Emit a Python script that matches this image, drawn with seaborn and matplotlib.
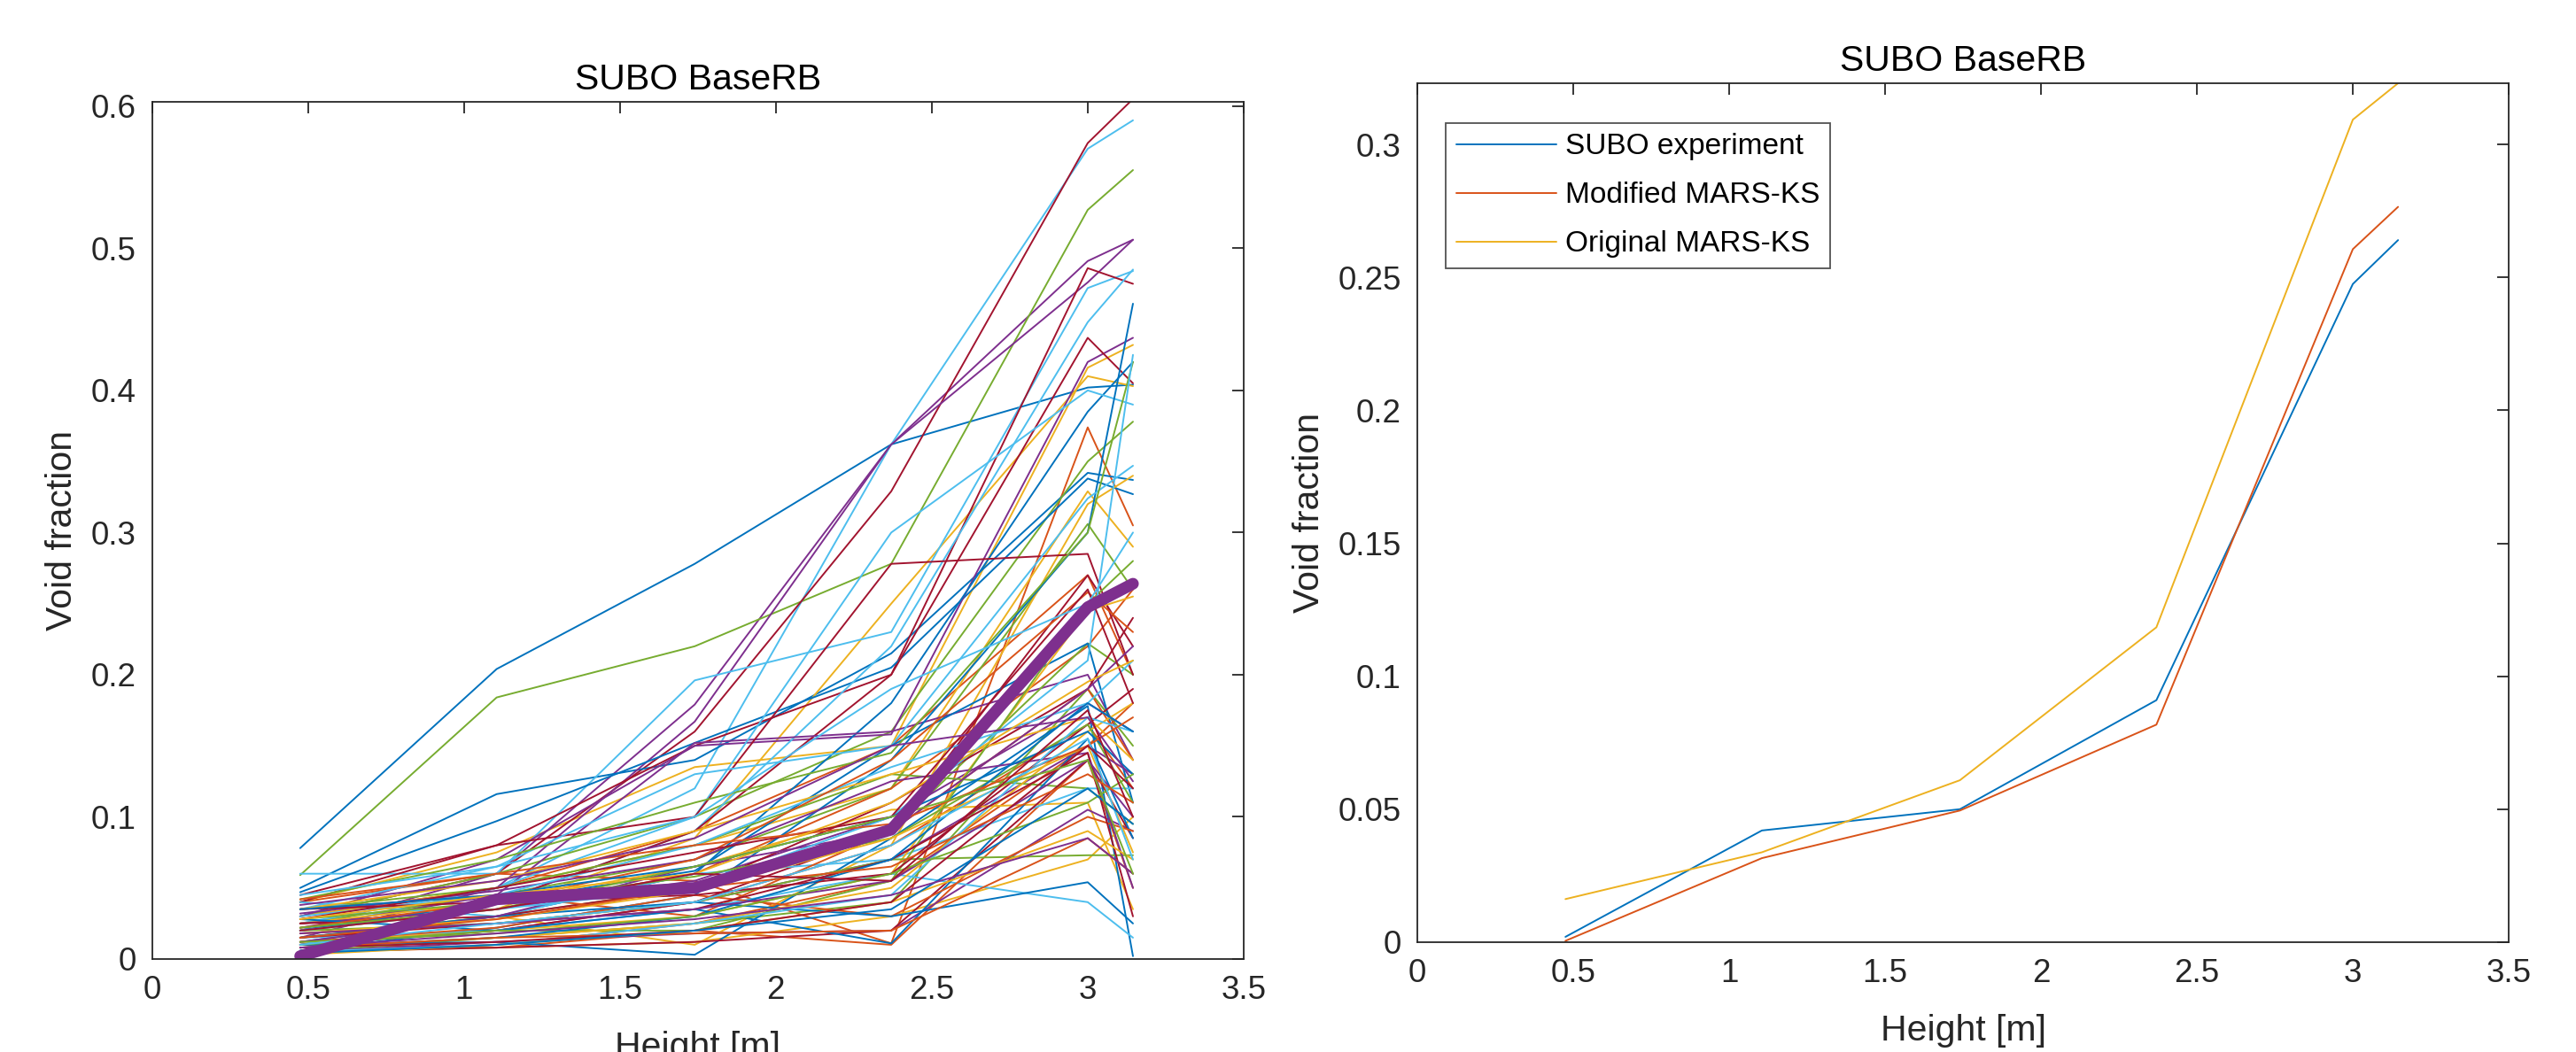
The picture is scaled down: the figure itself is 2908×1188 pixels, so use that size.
import numpy as np
import pandas as pd
import matplotlib
matplotlib.use("Agg")
import matplotlib.pyplot as plt
import seaborn as sns

# heights of the measuring stations [m]
heights = [0.475, 1.105, 1.74, 2.37, 3.0, 3.145]

# right panel
subo_exp = [0.002, 0.042, 0.050, 0.091, 0.2475, 0.264]
modified_mars = [0.0005, 0.0316, 0.0495, 0.0818, 0.2606, 0.2765]
original_mars = [0.0162, 0.0338, 0.0609, 0.1184, 0.3093, 0.323]
model_names = ["SUBO experiment", "Modified MARS-KS", "Original MARS-KS"]

runs = [
    [0.078, 0.204, 0.278, 0.362, 0.402, 0.404],
    [0.040, 0.060, 0.055, 0.011, 0.374, 0.305],
    [0.040, 0.075, 0.135, 0.150, 0.416, 0.432],
    [0.020, 0.060, 0.179, 0.362, 0.491, 0.506],
    [0.059, 0.184, 0.220, 0.278, 0.527, 0.555],
    [0.020, 0.050, 0.120, 0.362, 0.570, 0.590],
    [0.030, 0.060, 0.160, 0.329, 0.574, 0.605],

    [0.050, 0.116, 0.140, 0.215, 0.342, 0.337],
    [0.030, 0.050, 0.090, 0.150, 0.270, 0.200],
    [0.020, 0.035, 0.085, 0.250, 0.410, 0.403],
    [0.015, 0.050, 0.167, 0.362, 0.476, 0.506],
    [0.030, 0.060, 0.100, 0.160, 0.350, 0.378],
    [0.060, 0.060, 0.196, 0.230, 0.472, 0.484],
    [0.045, 0.080, 0.150, 0.200, 0.486, 0.475],

    [0.047, 0.097, 0.152, 0.205, 0.338, 0.327],
    [0.010, 0.008, 0.020, 0.010, 0.140, 0.050],
    [0.030, 0.050, 0.080, 0.120, 0.329, 0.290],
    [0.030, 0.070, 0.150, 0.158, 0.420, 0.437],
    [0.025, 0.045, 0.070, 0.120, 0.306, 0.260],
    [0.010, 0.040, 0.090, 0.220, 0.448, 0.485],
    [0.020, 0.040, 0.090, 0.200, 0.437, 0.405],

    [0.012, 0.030, 0.060, 0.180, 0.385, 0.420],
    [0.025, 0.035, 0.060, 0.120, 0.220, 0.260],
    [0.015, 0.030, 0.010, 0.080, 0.320, 0.340],
    [0.022, 0.045, 0.152, 0.160, 0.200, 0.140],
    [0.015, 0.030, 0.050, 0.090, 0.222, 0.200],
    [0.025, 0.050, 0.100, 0.300, 0.400, 0.390],
    [0.040, 0.080, 0.100, 0.278, 0.285, 0.200],

    [0.006, 0.022, 0.045, 0.140, 0.300, 0.461],
    [0.018, 0.025, 0.040, 0.080, 0.165, 0.120],
    [0.005, 0.008, 0.012, 0.030, 0.070, 0.100],
    [0.010, 0.020, 0.040, 0.070, 0.150, 0.130],
    [0.005, 0.015, 0.025, 0.040, 0.190, 0.150],
    [0.035, 0.065, 0.130, 0.150, 0.324, 0.347],
    [0.010, 0.020, 0.040, 0.090, 0.270, 0.220],

    [0.020, 0.040, 0.062, 0.150, 0.222, 0.110],
    [0.005, 0.010, 0.025, 0.055, 0.150, 0.180],
    [0.025, 0.040, 0.065, 0.105, 0.110, 0.035],
    [0.025, 0.035, 0.055, 0.100, 0.180, 0.160],
    [0.035, 0.050, 0.080, 0.130, 0.120, 0.095],
    [0.040, 0.030, 0.060, 0.070, 0.120, 0.120],
    [0.025, 0.030, 0.050, 0.110, 0.190, 0.240],

    [0.010, 0.012, 0.003, 0.085, 0.178, 0.002],
    [0.035, 0.045, 0.030, 0.090, 0.190, 0.140],
    [0.012, 0.020, 0.030, 0.060, 0.245, 0.255],
    [0.005, 0.012, 0.018, 0.020, 0.105, 0.090],
    [0.020, 0.025, 0.040, 0.070, 0.073, 0.073],
    [0.015, 0.020, 0.035, 0.060, 0.040, 0.015],
    [0.005, 0.008, 0.012, 0.020, 0.140, 0.085],

    [0.028, 0.020, 0.035, 0.011, 0.155, 0.085],
    [0.012, 0.022, 0.045, 0.030, 0.100, 0.090],
    [0.035, 0.055, 0.090, 0.130, 0.170, 0.140],
    [0.032, 0.048, 0.070, 0.125, 0.145, 0.050],
    [0.010, 0.020, 0.020, 0.055, 0.250, 0.280],
    [0.030, 0.045, 0.080, 0.135, 0.180, 0.210],
    [0.035, 0.040, 0.045, 0.060, 0.165, 0.190],

    [0.015, 0.030, 0.040, 0.030, 0.054, 0.025],
    [0.022, 0.040, 0.070, 0.140, 0.258, 0.230],
    [0.008, 0.015, 0.025, 0.050, 0.160, 0.180],
    [0.012, 0.030, 0.065, 0.090, 0.190, 0.220],
    [0.028, 0.040, 0.058, 0.085, 0.165, 0.110],
    [0.005, 0.010, 0.025, 0.045, 0.170, 0.160],
    [0.015, 0.025, 0.035, 0.070, 0.145, 0.030],

    [0.008, 0.015, 0.030, 0.070, 0.180, 0.160],
    [0.008, 0.015, 0.018, 0.020, 0.085, 0.060],
    [0.018, 0.028, 0.048, 0.085, 0.150, 0.075],
    [0.018, 0.025, 0.035, 0.055, 0.140, 0.100],
    [0.042, 0.070, 0.110, 0.145, 0.300, 0.420],
    [0.020, 0.035, 0.050, 0.100, 0.210, 0.425],
    [0.028, 0.050, 0.075, 0.100, 0.260, 0.180],

    [0.035, 0.045, 0.065, 0.100, 0.160, 0.130],
    [0.042, 0.060, 0.080, 0.095, 0.150, 0.170],
    [0.003, 0.010, 0.020, 0.040, 0.090, 0.070],
    [0.038, 0.055, 0.085, 0.150, 0.170, 0.125],
    [0.012, 0.018, 0.030, 0.060, 0.110, 0.130],
    [0.010, 0.025, 0.040, 0.080, 0.155, 0.070],
    [0.008, 0.012, 0.020, 0.040, 0.150, 0.120],

    [0.004, 0.010, 0.020, 0.035, 0.120, 0.095],
    [0.015, 0.028, 0.050, 0.065, 0.130, 0.110],
    [0.028, 0.045, 0.060, 0.110, 0.195, 0.210],
    [0.008, 0.018, 0.028, 0.045, 0.085, 0.060],
    [0.022, 0.035, 0.065, 0.100, 0.140, 0.060],
    [0.045, 0.065, 0.100, 0.190, 0.250, 0.300],
    [0.020, 0.035, 0.060, 0.055, 0.175, 0.100],
]

matlab_colors = ["#0072BD", "#D95319", "#EDB120", "#7E2F8E",
                 "#77AC30", "#4DBEEE", "#A2142F"]

sns.set_style("white")
plt.rcParams["font.family"] = ["Liberation Sans", "DejaVu Sans"]
dark = "#262626"

rows = []
for i, r in enumerate(runs):
    for h, v in zip(heights, r):
        rows.append({"run": i, "height": h, "void": v})
df_runs = pd.DataFrame(rows)
df_exp = pd.DataFrame({"height": heights, "void": subo_exp})

rows = []
for name, vals in zip(model_names, [subo_exp, modified_mars, original_mars]):
    for h, v in zip(heights, vals):
        rows.append({"model": name, "height": h, "void": v})
df_models = pd.DataFrame(rows)

fig = plt.figure(figsize=(29.08, 11.88), dpi=100)
ax1 = fig.add_axes([0.059, 0.0884, 0.4238, 0.8148])
ax2 = fig.add_axes([0.5502, 0.1044, 0.4237, 0.8165])

pal = [matlab_colors[i % 7] for i in range(len(runs))]
sns.lineplot(data=df_runs, x="height", y="void", hue="run", palette=pal,
             estimator=None, sort=False, legend=False, linewidth=1.4, ax=ax1)
sns.lineplot(data=df_exp, x="height", y="void", color="#7E2F8E",
             estimator=None, sort=False, linewidth=9.5, ax=ax1)
ax1.set_ylim(0, 0.603)
ax1.set_yticks(np.arange(0, 0.61, 0.1))
ax1.set_yticklabels(["0", "0.1", "0.2", "0.3", "0.4", "0.5", "0.6"])

sns.lineplot(data=df_models, x="height", y="void", hue="model",
             palette=matlab_colors[:3], estimator=None, sort=False,
             linewidth=1.4, ax=ax2)
ax2.set_ylim(0, 0.323)
ax2.set_yticks(np.arange(0, 0.31, 0.05))
ax2.set_yticklabels(["0", "0.05", "0.1", "0.15", "0.2", "0.25", "0.3"])
leg = ax2.legend(loc="upper left", bbox_to_anchor=(0.026, 0.954), borderaxespad=0,
                 fontsize=24, frameon=True, fancybox=False, edgecolor=dark,
                 handlelength=3.4, labelspacing=0.72, borderpad=0.35,
                 handletextpad=0.3)
leg.get_frame().set_linewidth(1.3)
for t in leg.get_texts():
    t.set_color("black")

for ax in (ax1, ax2):
    ax.set_xlim(0, 3.5)
    ax.set_xticks(np.arange(0, 3.51, 0.5))
    ax.set_xticklabels(["0", "0.5", "1", "1.5", "2", "2.5", "3", "3.5"])
    ax.set_xlabel("Height [m]", fontsize=29.5, color=dark, labelpad=20)
    ax.set_ylabel("Void fraction", fontsize=29.5, color=dark, labelpad=10)
    ax.set_title("SUBO BaseRB", fontsize=29.5, color="black", pad=10)
    ax.tick_params(direction="in", top=True, right=True, length=9.5, width=1.3,
                   labelsize=26.5, colors=dark, pad=13)
    for s in ax.spines.values():
        s.set_visible(True)
        s.set_color(dark)
        s.set_linewidth(1.3)

fig.savefig("out.png", dpi=100, facecolor="white")
